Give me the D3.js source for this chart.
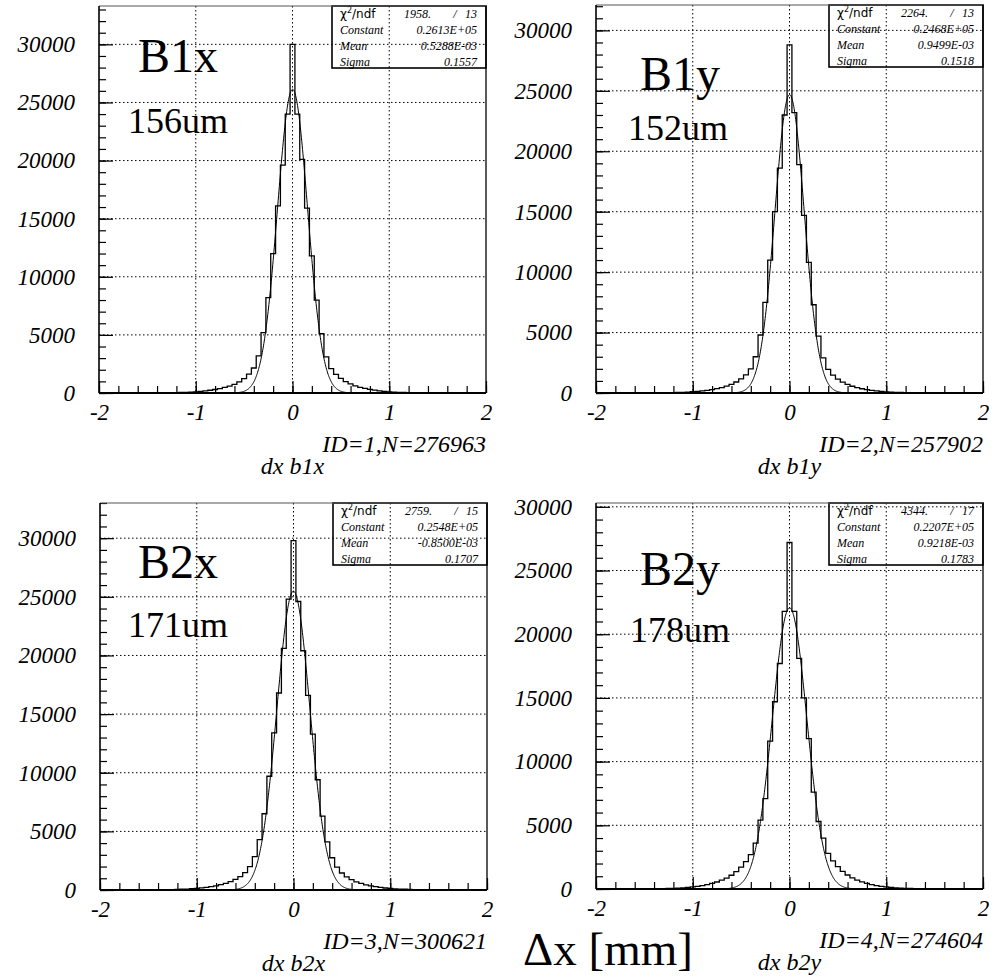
<!DOCTYPE html>
<html>
<head>
<meta charset="utf-8">
<script src="https://cdn.jsdelivr.net/npm/d3@7"></script>
<style>
  body { margin: 0; background: #fff; }
  svg { display: block; }
  text { font-family: "Liberation Serif", "Times New Roman", Times, serif; fill: #000; }
</style>
</head>
<body>
<div id="chart"></div>
<script>
const width = 998;
const height = 977;
const serif = '"Liberation Serif", "Times New Roman", Times, serif';

// histogram bins: width 0.05, centred on k*0.05, from -2 to 2
const binWidth = 0.05;
const binCenters = d3.range(-40, 41).map(k => k * binWidth);

// bin contents, left (-2.00) to right (+2.00)
const countsB1x = [
  2, 2, 2, 3, 3, 4, 4, 5, 6, 7,
  8, 10, 13, 16, 20, 26, 34, 44, 58, 76,
  100, 135, 180, 235, 300, 380, 480, 600, 750, 960,
  1230, 1620, 2150, 3200, 5200, 8200, 12000, 16100, 19600, 24000,
  30000,
  24000, 20100, 15900, 11800, 8000, 5100, 3100, 2100, 1600, 1250,
  980, 780, 620, 490, 390, 305, 240, 185, 140, 105,
  80, 60, 46, 35, 27, 21, 16, 13, 10, 8,
  7, 6, 5, 4, 4, 3, 3, 2, 2, 2
];
const countsB1y = [
  2, 2, 2, 3, 3, 4, 4, 5, 6, 7,
  8, 10, 13, 17, 22, 28, 36, 46, 60, 78,
  102, 132, 170, 218, 280, 355, 450, 565, 720, 910,
  1170, 1500, 2000, 3000, 4800, 7500, 11000, 15000, 18600, 23000,
  28800,
  23200, 18900, 14700, 10800, 7300, 4700, 2900, 1950, 1480, 1150,
  900, 710, 560, 445, 350, 275, 215, 168, 130, 100,
  76, 58, 45, 35, 27, 21, 16, 13, 10, 8,
  7, 6, 5, 4, 4, 3, 3, 2, 2, 2
];
const countsB2x = [
  2, 2, 3, 3, 4, 4, 5, 6, 7, 8,
  11, 14, 18, 23, 30, 38, 49, 63, 82, 106,
  137, 176, 225, 285, 360, 455, 570, 715, 900, 1140,
  1480, 2000, 2850, 4300, 6500, 9700, 13400, 16800, 20600, 24800,
  29800,
  24600, 20400, 16600, 13300, 9400, 6300, 4100, 2750, 1950, 1450,
  1120, 880, 700, 560, 445, 355, 280, 220, 172, 134,
  104, 80, 62, 48, 37, 29, 22, 17, 13, 10,
  8, 7, 6, 5, 4, 4, 3, 3, 2, 2
];
const countsB2y = [
  2, 2, 3, 3, 4, 4, 5, 6, 7, 9,
  11, 14, 18, 24, 31, 41, 54, 71, 93, 122,
  160, 208, 268, 345, 440, 550, 690, 860, 1080, 1360,
  1720, 2150, 2700, 3600, 5400, 7100, 11600, 14700, 17700, 21800,
  27200,
  21800, 18100, 15000, 11800, 7600, 5300, 4000, 2800, 2200, 1750,
  1380, 1100, 880, 700, 560, 445, 350, 270, 210, 160,
  122, 93, 71, 54, 41, 31, 24, 18, 14, 11,
  9, 7, 6, 5, 4, 4, 3, 3, 2, 2
];

// gaussian fit results and text of the stats boxes
const fitConstants = [26130, 24680, 25480, 22070];
const fitMeans = [0.5288e-3, 0.9499e-3, -0.8500e-3, 0.9218e-3];
const fitSigmas = [0.1557, 0.1518, 0.1707, 0.1783];
const chi2Labels = ['1958.', '2264.', '2759.', '4344.'];
const ndfLabels = ['13', '13', '15', '17'];
const constantLabels = ['0.2613E+05', '0.2468E+05', '0.2548E+05', '0.2207E+05'];
const meanLabels = ['0.5288E-03', '0.9499E-03', '-0.8500E-03', '0.9218E-03'];
const sigmaLabels = ['0.1557', '0.1518', '0.1707', '0.1783'];

const panelNames = ['B1x', 'B1y', 'B2x', 'B2y'];
const resolutionLabels = ['156um', '152um', '171um', '178um'];
const idLabels = ['ID=1,N=276963', 'ID=2,N=257902', 'ID=3,N=300621', 'ID=4,N=274604'];
const histTitles = ['dx b1x', 'dx b1y', 'dx b2x', 'dx b2y'];
const yMaxes = [33300, 32100, 33000, 30300];
const xMajorTicks = [-2, -1, 0, 1, 2];
const xMinorTicks = d3.range(-2, 2.0001, 0.2);
const xGridTicks = [-1, 0, 1];

const allCounts = [countsB1x, countsB1y, countsB2x, countsB2y];

// frame of each pad in page pixels
const frames = [
  {left: 99, right: 486, top: 6, bottom: 393},
  {left: 596, right: 983, top: 5, bottom: 393},
  {left: 100, right: 487, top: 503, bottom: 890},
  {left: 596, right: 983, top: 503, bottom: 889}
];
const namePos = [[138, 72], [640, 90], [138, 578], [640, 585]];
const resPos = [[128, 133], [628, 140], [128, 637], [630, 642]];

const svg = d3.select('#chart').append('svg')
  .attr('width', width)
  .attr('height', height);

const dotted = '1.5,2.5';

function italic(sel, size) {
  return sel.attr('font-family', serif).style('font-family', serif)
    .style('font-style', 'italic').style('font-size', size + 'px');
}

function drawPanel(i) {
  const f = frames[i];
  const counts = allCounts[i];
  const x = d3.scaleLinear().domain([-2, 2]).range([f.left, f.right]);
  const y = d3.scaleLinear().domain([0, yMaxes[i]]).range([f.bottom, f.top]);
  const g = svg.append('g');

  g.append('clipPath').attr('id', 'clip' + i)
    .append('rect')
    .attr('x', f.left).attr('y', f.top)
    .attr('width', f.right - f.left).attr('height', f.bottom - f.top);

  // stats box (white, the grid is drawn over it like in the original)
  const bx = f.right - 154, by = f.top, bw = 154, bh = 62;
  g.append('rect')
    .attr('x', bx).attr('y', by).attr('width', bw).attr('height', bh)
    .attr('fill', '#fff').attr('stroke', '#000').attr('stroke-width', 1.6);
  const rows = [
    ['Constant', constantLabels[i]],
    ['Mean', meanLabels[i]],
    ['Sigma', sigmaLabels[i]]
  ];
  const chiY = by + 12;
  const t = g.append('text').attr('x', bx + 8).attr('y', chiY)
    .style('font-family', '"DejaVu Sans", "Liberation Sans", sans-serif')
    .style('font-size', '12px');
  t.append('tspan').text('\u03c7');
  t.append('tspan').attr('dy', -5).style('font-size', '8px').text('2');
  t.append('tspan').attr('dy', 5).text('/ndf');
  italic(g.append('text'), 12).attr('x', bx + bw - 55).attr('y', chiY)
    .attr('text-anchor', 'end').text(chi2Labels[i]);
  italic(g.append('text'), 12).attr('x', bx + bw - 31).attr('y', chiY)
    .attr('text-anchor', 'middle').text('/');
  italic(g.append('text'), 12).attr('x', bx + bw - 9).attr('y', chiY)
    .attr('text-anchor', 'end').text(ndfLabels[i]);
  rows.forEach((r, k) => {
    const ry = by + 28 + k * 16;
    italic(g.append('text'), 12).attr('x', bx + 8).attr('y', ry).text(r[0]);
    italic(g.append('text'), 12).attr('x', bx + bw - 9).attr('y', ry)
      .attr('text-anchor', 'end').text(r[1]);
  });

  // dotted grid
  const yMajor = d3.range(5000, yMaxes[i] + 1, 5000);
  g.selectAll('.hgrid').data(yMajor).enter().append('line')
    .attr('x1', f.left).attr('x2', f.right)
    .attr('y1', d => y(d)).attr('y2', d => y(d))
    .attr('stroke', '#000').attr('stroke-width', 1).attr('stroke-dasharray', dotted);
  g.selectAll('.vgrid').data(xGridTicks).enter().append('line')
    .attr('x1', d => x(d)).attr('x2', d => x(d))
    .attr('y1', f.top).attr('y2', f.bottom)
    .attr('stroke', '#000').attr('stroke-width', 1).attr('stroke-dasharray', dotted);

  // histogram as a step outline
  const pts = [[-3, 0]];
  counts.forEach((v, k) => {
    const c = binCenters[k];
    pts.push([c - binWidth / 2, v], [c + binWidth / 2, v]);
  });
  pts.push([binCenters[binCenters.length - 1] + binWidth / 2, 0]);
  g.append('path')
    .attr('clip-path', `url(#clip${i})`)
    .attr('d', d3.line().x(d => x(d[0])).y(d => y(d[1]))(pts))
    .attr('fill', 'none').attr('stroke', '#000').attr('stroke-width', 1.3);

  // gaussian fit
  const gauss = u => fitConstants[i] * Math.exp(-0.5 * Math.pow((u - fitMeans[i]) / fitSigmas[i], 2));
  const fx = d3.range(-2, 2.0001, 0.004);
  g.append('path')
    .attr('clip-path', `url(#clip${i})`)
    .attr('d', d3.line().x(d => x(d)).y(d => y(gauss(d)))(fx))
    .attr('fill', 'none').attr('stroke', '#000').attr('stroke-width', 1);

  // axes with inward ticks
  const yMinor = d3.range(0, yMaxes[i] + 1, 1000);
  const yMajorAll = d3.range(0, yMaxes[i] + 1, 5000);
  g.append('g').attr('transform', `translate(${f.left},0)`)
    .call(d3.axisLeft(y).tickValues(yMinor).tickSize(-7).tickFormat(''))
    .call(a => a.select('.domain').remove());
  g.append('g').attr('transform', `translate(${f.left},0)`)
    .call(d3.axisLeft(y).tickValues(yMajorAll).tickSize(-14).tickPadding(24).tickFormat(d3.format('d')))
    .attr('font-family', serif)
    .call(a => a.select('.domain').remove())
    .call(a => italic(a.selectAll('text'), 23));
  g.append('g').attr('transform', `translate(0,${f.bottom})`)
    .call(d3.axisBottom(x).tickValues(xMinorTicks).tickSize(-7).tickFormat(''))
    .call(a => a.select('.domain').remove());
  g.append('g').attr('transform', `translate(0,${f.bottom})`)
    .call(d3.axisBottom(x).tickValues(xMajorTicks).tickSize(-12).tickPadding(11)
      .tickFormat(d => d < 0 ? '-' + Math.abs(d) : String(d)))
    .attr('font-family', serif)
    .call(a => a.select('.domain').remove())
    .call(a => italic(a.selectAll('text'), 23));
  g.selectAll('.tick line').attr('stroke', '#000').attr('stroke-width', 1.2);

  // frame
  g.append('line').attr('x1', f.left).attr('x2', f.right).attr('y1', f.top).attr('y2', f.top)
    .attr('stroke', '#555').attr('stroke-width', 1);
  g.append('line').attr('x1', f.right).attr('x2', f.right).attr('y1', f.top).attr('y2', f.bottom)
    .attr('stroke', '#000').attr('stroke-width', 1.3);
  g.append('line').attr('x1', f.left).attr('x2', f.left).attr('y1', f.top).attr('y2', f.bottom)
    .attr('stroke', '#000').attr('stroke-width', 1.6);
  g.append('line').attr('x1', f.left).attr('x2', f.right).attr('y1', f.bottom).attr('y2', f.bottom)
    .attr('stroke', '#000').attr('stroke-width', 2);

  // labels under the pad
  italic(g.append('text'), 24).attr('x', f.right).attr('y', f.bottom + 59)
    .attr('text-anchor', 'end').text(idLabels[i]);
  italic(g.append('text'), 24).attr('x', x(0)).attr('y', f.bottom + 81)
    .attr('text-anchor', 'middle').text(histTitles[i]);

  // big annotations
  g.append('text').attr('x', namePos[i][0]).attr('y', namePos[i][1])
    .style('font-family', serif).style('font-size', '48px').text(panelNames[i]);
  g.append('text').attr('x', resPos[i][0]).attr('y', resPos[i][1])
    .style('font-family', serif).style('font-size', '36px').text(resolutionLabels[i]);
}

d3.range(4).forEach(drawPanel);

svg.append('text').attr('x', 608).attr('y', 965).attr('text-anchor', 'middle')
  .style('font-family', serif).style('font-size', '47px').text('\u0394x [mm]');
</script>
</body>
</html>
